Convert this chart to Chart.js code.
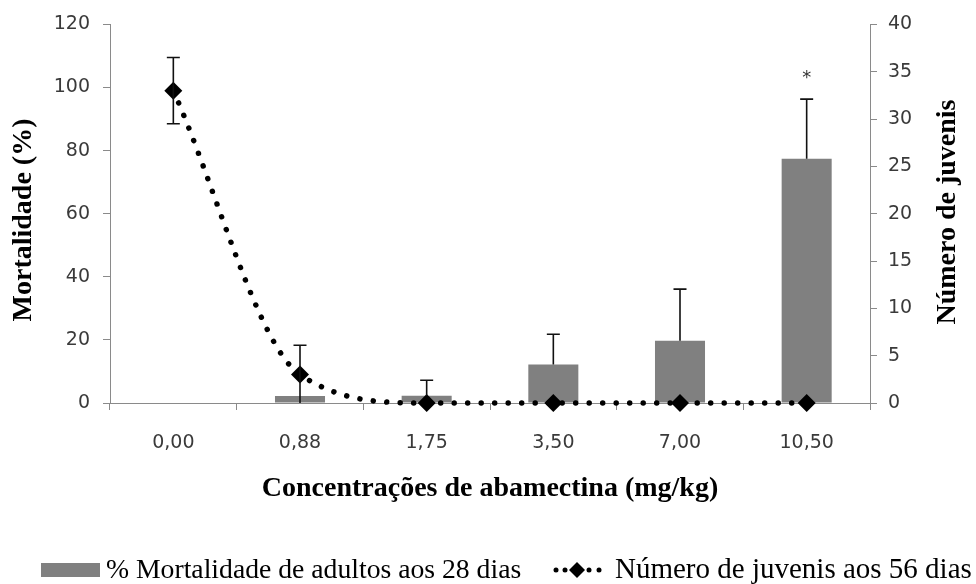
<!DOCTYPE html>
<html>
<head>
<meta charset="utf-8">
<script src="https://cdn.jsdelivr.net/npm/chart.js@4"></script>
<style>
  body { margin: 0; background: #fff; }
  canvas { display: block; }
</style>
</head>
<body>
<canvas id="chart" width="976" height="584"></canvas>
<script>
const concentrations = ["0,00", "0,88", "1,75", "3,50", "7,00", "10,50"];
const mortality = [0, 2.2, 2.3, 12.2, 19.7, 77.4];
const mortalityErr = [0, 0, 4.9, 9.6, 16.4, 18.9];
const juveniles = [33, 3, 0, 0, 0, 0];
const juvenilesErr = [3.5, 3.1, 0, 0, 0, 0];
const signif = ["", "", "", "", "", "*"];
const leftTicks = [0, 20, 40, 60, 80, 100, 120];
const rightTicks = [0, 5, 10, 15, 20, 25, 30, 35, 40];

const mortLabel = "% Mortalidade de adultos aos 28 dias";
const juvLabel = "Número de juvenis aos 56 dias";

const tickFont = { family: "DejaVu Sans", size: 19 };
const tickColor = "#3a3a3a";
const axisGray = "#8a8a8a";

// error bars + significance marks
const errorBars = {
  id: "errorBars",
  afterDatasetsDraw(chart) {
    const ctx = chart.ctx;
    const area = chart.chartArea;
    ctx.save();
    ctx.beginPath();
    ctx.rect(area.left, 0, area.right - area.left, area.bottom);
    ctx.clip();
    ctx.strokeStyle = "#111";
    ctx.lineWidth = 1.6;
    const cap = 6.5;
    chart.data.datasets.forEach((ds, i) => {
      const meta = chart.getDatasetMeta(i);
      const scale = chart.scales[meta.yAxisID];
      meta.data.forEach((el, j) => {
        const err = ds.errors[j];
        if (!err) return;
        const v = ds.data[j];
        const x = el.x;
        const yTop = scale.getPixelForValue(v + err);
        const yBot = ds.type === "bar" ? scale.getPixelForValue(v) : scale.getPixelForValue(v - err);
        ctx.beginPath();
        ctx.moveTo(x, yBot);
        ctx.lineTo(x, yTop);
        ctx.moveTo(x - cap, yTop);
        ctx.lineTo(x + cap, yTop);
        if (ds.type !== "bar") {
          ctx.moveTo(x - cap, yBot);
          ctx.lineTo(x + cap, yBot);
        }
        ctx.stroke();
      });
    });
    ctx.restore();

    // asterisk above bar error
    const barMeta = chart.getDatasetMeta(1);
    const y = chart.scales.y;
    ctx.save();
    ctx.fillStyle = "#333";
    ctx.font = "18px 'DejaVu Sans'";
    ctx.textAlign = "center";
    ctx.textBaseline = "middle";
    signif.forEach((s, j) => {
      if (!s) return;
      const el = barMeta.data[j];
      ctx.fillText(s, el.x, y.getPixelForValue(mortality[j] + mortalityErr[j]) - 21);
    });
    ctx.restore();
  }
};

// axis titles and legend
const decorations = {
  id: "decorations",
  afterDraw(chart) {
    const ctx = chart.ctx;
    const area = chart.chartArea;
    ctx.save();
    ctx.fillStyle = "#000";
    ctx.font = "bold 28px 'Liberation Serif'";
    ctx.textAlign = "center";
    ctx.textBaseline = "middle";
    ctx.fillText("Concentrações de abamectina (mg/kg)", (area.left + area.right) / 2, 489);

    ctx.save();
    ctx.translate(24, 220);
    ctx.rotate(-Math.PI / 2);
    ctx.fillText("Mortalidade (%)", 0, 0);
    ctx.restore();

    ctx.save();
    ctx.translate(948, 212);
    ctx.rotate(-Math.PI / 2);
    ctx.fillText("Número de juvenis", 0, 0);
    ctx.restore();

    // legend
    ctx.textAlign = "left";
    ctx.textBaseline = "alphabetic";
    ctx.fillStyle = "#808080";
    ctx.fillRect(41, 563, 59, 14);
    ctx.fillStyle = "#000";
    ctx.font = "27.7px 'Liberation Serif'";
    ctx.fillText(mortLabel, 106, 578);

    [556, 565, 589, 599].forEach(cx => {
      ctx.beginPath();
      ctx.arc(cx, 570, 2.5, 0, Math.PI * 2);
      ctx.fill();
    });
    ctx.beginPath();
    ctx.moveTo(577, 562);
    ctx.lineTo(585, 570);
    ctx.lineTo(577, 578);
    ctx.lineTo(569, 570);
    ctx.closePath();
    ctx.fill();
    ctx.font = "29px 'Liberation Serif'";
    ctx.fillText(juvLabel, 615, 578);
    ctx.restore();
  }
};

new Chart(document.getElementById("chart"), {
  data: {
    labels: concentrations,
    datasets: [
      {
        type: "line",
        label: juvLabel,
        data: juveniles,
        errors: juvenilesErr,
        yAxisID: "y1",
        order: 0,
        borderColor: "#000",
        borderWidth: 5.5,
        borderDash: [0.001, 13.5],
        borderCapStyle: "round",
        cubicInterpolationMode: "monotone",
        pointStyle: "rectRot",
        pointRadius: 9,
        pointBackgroundColor: "#000",
        pointBorderColor: "#000",
        pointBorderWidth: 0,
        clip: false
      },
      {
        type: "bar",
        label: mortLabel,
        data: mortality,
        errors: mortalityErr,
        yAxisID: "y",
        order: 1,
        backgroundColor: "#808080",
        barPercentage: 0.395,
        categoryPercentage: 1
      }
    ]
  },
  options: {
    responsive: false,
    devicePixelRatio: 1,
    animation: false,
    layout: { padding: { top: 22, left: 0, right: 0, bottom: 0 } },
    plugins: {
      legend: { display: false },
      tooltip: { enabled: false }
    },
    scales: {
      x: {
        offset: true,
        grid: { display: true, drawOnChartArea: false, offset: true, tickLength: 7, color: axisGray },
        border: { color: axisGray },
        ticks: { font: tickFont, color: tickColor, padding: 22, maxRotation: 0 },
        afterFit(scale) { scale.height = 181; }
      },
      y: {
        position: "left",
        min: 0,
        max: 120,
        afterBuildTicks(scale) { scale.ticks = leftTicks.map(v => ({ value: v })); },
        grid: { display: true, drawOnChartArea: false, tickLength: 7, color: axisGray },
        border: { color: axisGray },
        ticks: { font: tickFont, color: tickColor, padding: 13 },
        afterFit(scale) { scale.width = 110; }
      },
      y1: {
        position: "right",
        min: 0,
        max: 40,
        afterBuildTicks(scale) { scale.ticks = rightTicks.map(v => ({ value: v })); },
        grid: { display: true, drawOnChartArea: false, tickLength: 7, color: axisGray },
        border: { color: axisGray },
        ticks: { font: tickFont, color: tickColor, padding: 11 },
        afterFit(scale) { scale.width = 106; }
      }
    }
  },
  plugins: [errorBars, decorations]
});
</script>
</body>
</html>
